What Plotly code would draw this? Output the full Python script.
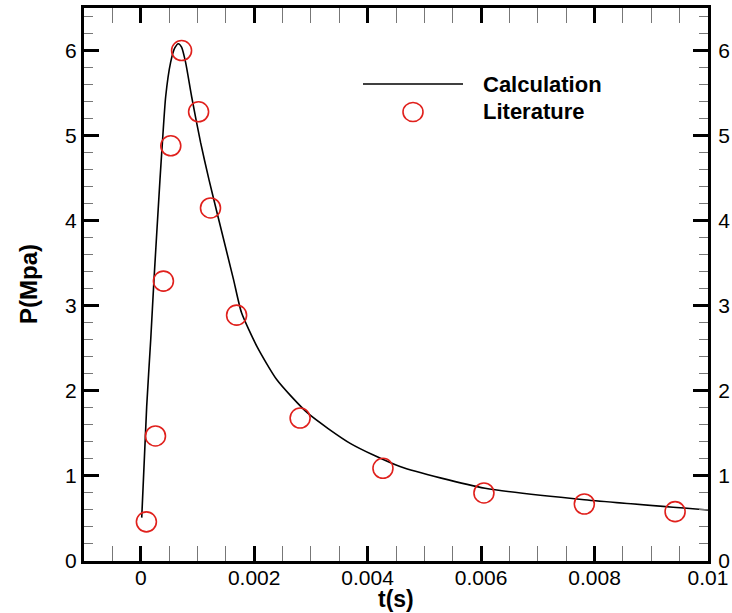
import plotly.graph_objects as go

# Literature data (circles)
lit_t = [0.0001, 0.00026, 0.0004, 0.00053, 0.00072, 0.00102, 0.00123, 0.00169,
         0.00281, 0.00427, 0.00605, 0.00782, 0.00942]
lit_p = [0.46, 1.47, 3.29, 4.88, 6.0, 5.28, 4.15, 2.89, 1.68, 1.09, 0.80, 0.67, 0.58]

# Calculation curve
calc_t = [0.0000176, 0.000105, 0.000176, 0.000234, 0.000339, 0.000382, 0.00044,
          0.000527, 0.0006, 0.000663, 0.00072, 0.000791, 0.000897, 0.001055,
          0.001204, 0.001354, 0.001635, 0.001776, 0.00205, 0.0024,
          0.00294, 0.0037, 0.00457, 0.00607, 0.00782, 0.0100]
calc_p = [0.51, 1.815, 2.60, 3.31, 4.48, 4.92, 5.46, 5.86, 6.03, 6.08, 6.04,
          5.86, 5.46, 4.92, 4.48, 4.07, 3.31, 2.92, 2.52, 2.13,
          1.74, 1.38, 1.11, 0.855, 0.72, 0.60]

x_ticks = [0, 0.002, 0.004, 0.006, 0.008, 0.01]
x_labels = ["0", "0.002", "0.004", "0.006", "0.008", "0.01"]
y_ticks = [0, 1, 2, 3, 4, 5, 6]
y_labels = ["0", "1", "2", "3", "4", "5", "6"]
x_title = "t(s)"
y_title = "P(Mpa)"

FONT = "Liberation Sans, Arial, sans-serif"
RED = "#e0201c"
L, R, T, B, W, H = 84, 24, 8, 52, 732, 613
PW, PH = W - L - R, H - T - B


def px(x):
    return (x - L) / PW


def py(y):
    return (H - B - y) / PH


fig = go.Figure()
fig.add_trace(go.Scatter(x=calc_t, y=calc_p, mode="lines", name="Calculation",
                         line=dict(color="black", width=1.6, shape="spline", smoothing=0.6),
                         showlegend=False))
fig.add_trace(go.Scatter(x=lit_t, y=lit_p, mode="markers", name="Literature",
                         marker=dict(symbol="circle-open", size=20, color=RED,
                                     line=dict(width=1.6, color=RED)),
                         showlegend=False))
# empty trace so the right-hand label axis is drawn
fig.add_trace(go.Scatter(x=[], y=[], yaxis="y2", showlegend=False))

axis_common = dict(
    showgrid=False, zeroline=False, showline=True, linecolor="black", linewidth=3,
    ticks="inside", ticklen=15, tickwidth=2.5, tickcolor="black",
    mirror="allticks", automargin=False,
    tickfont=dict(family=FONT, size=21, color="black"),
)

fig.update_layout(
    width=W, height=H,
    margin=dict(l=L, r=R, t=T, b=B),
    paper_bgcolor="white", plot_bgcolor="white",
    font=dict(family=FONT, color="black"),
    xaxis=dict(range=[-0.001, 0.01], tickvals=x_ticks, ticktext=x_labels,
               ticklabelstandoff=-4,
               minor=dict(dtick=0.0005, tick0=0, ticks="inside", ticklen=9,
                          tickwidth=1, tickcolor="#777"),
               **axis_common),
    yaxis=dict(range=[0, 6.5], tickvals=y_ticks, ticktext=y_labels,
               minor=dict(dtick=0.2, tick0=0, ticks="inside", ticklen=9,
                          tickwidth=1, tickcolor="#777"),
               **axis_common),
    yaxis2=dict(overlaying="y", side="right", range=[0, 6.5], tickvals=y_ticks,
                ticktext=y_labels, showgrid=False, zeroline=False, showline=False,
                automargin=False,
                ticks="outside", ticklen=5, tickcolor="rgba(0,0,0,0)",
                tickfont=dict(family=FONT, size=21, color="black")),
)

# axis titles
fig.add_annotation(text=f"<b>{x_title}</b>", xref="paper", yref="paper",
                   x=px(396), y=py(599), xanchor="center", yanchor="middle",
                   showarrow=False, font=dict(family=FONT, size=23, color="black"))
fig.add_annotation(text=f"<b>{y_title}</b>", xref="paper", yref="paper",
                   x=px(28), y=py(284), xanchor="center", yanchor="middle",
                   textangle=-90, showarrow=False,
                   font=dict(family=FONT, size=24, color="black"))

# custom legend
fig.add_shape(type="line", xref="paper", yref="paper",
              x0=px(363), x1=px(463), y0=py(84), y1=py(84),
              line=dict(color="black", width=1.6))
fig.add_shape(type="circle", xref="paper", yref="paper",
              xsizemode="pixel", ysizemode="pixel",
              xanchor=px(413), yanchor=py(112),
              x0=-10, x1=10, y0=-9.5, y1=9.5,
              line=dict(color=RED, width=1.6))
for txt, yy in [("Calculation", 84), ("Literature", 111)]:
    fig.add_annotation(text=f"<b>{txt}</b>", xref="paper", yref="paper",
                       x=px(481), y=py(yy),
                       xanchor="left", yanchor="middle", showarrow=False,
                       font=dict(family=FONT, size=22, color="black"))

fig.write_html("out.html", config={"displayModeBar": False},
               post_script="document.body.style.margin='0';document.body.style.overflow='hidden';")
